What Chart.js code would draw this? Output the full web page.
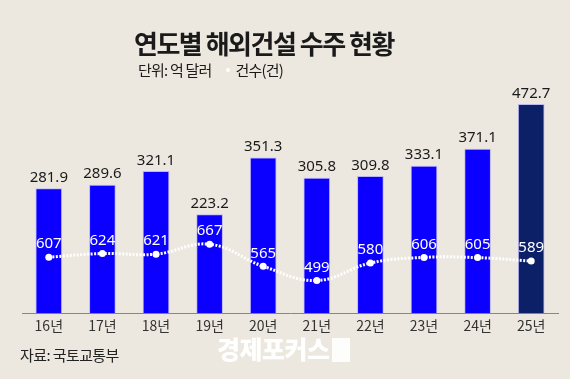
<!DOCTYPE html>
<html><head><meta charset="utf-8">
<script src="https://cdn.jsdelivr.net/npm/chart.js@4"></script>
<style>
html,body{margin:0;padding:0;background:#ECE8DF;}
#wrap{position:relative;width:570px;height:379px;overflow:hidden;font-family:"Noto Sans CJK KR","Noto Sans",sans-serif;}
#c{position:absolute;left:0;top:0;}
.t{position:absolute;white-space:nowrap;}
#title{left:134px;top:24px;font-size:26px;font-weight:700;color:#1a1a1a;letter-spacing:-1.5px;}
#sub{left:138px;top:59px;font-size:15px;color:#1a1a1a;letter-spacing:-0.8px;}
#sub .dot{display:inline-block;width:4px;height:4px;border-radius:2px;background:#fff;margin:0 6px 3px 14px;vertical-align:middle;}
#src{left:20px;top:344px;font-size:15px;color:#222;letter-spacing:-0.6px;}
#wm{left:217px;top:330px;font-size:25px;font-weight:900;color:#fff;letter-spacing:-0.5px;}
#wm .box{display:inline-block;width:18px;height:24px;background:#fff;margin-left:2px;vertical-align:-3px;opacity:0.9;}
</style></head>
<body><div id="wrap">
<canvas id="c" width="570" height="379"></canvas>
<div class="t" id="title">연도별 해외건설 수주 현황</div>
<div class="t" id="sub">단위: 억 달러<span class="dot"></span>건수(건)</div>
<div class="t" id="src">자료: 국토교통부</div>
<div class="t" id="wm">경제포커스<span class="box"></span></div>
</div>
<script>
const categories = ["16년","17년","18년","19년","20년","21년","22년","23년","24년","25년"];
const orderAmounts = [281.9,289.6,321.1,223.2,351.3,305.8,309.8,333.1,371.1,472.7];
const orderCounts = [607,624,621,667,565,499,580,606,605,589];
const barColors = categories.map((c,i)=> i===categories.length-1 ? "#0C2068" : "#0B00FF");

const labelPlugin = {
  id:"labels",
  afterDatasetsDraw(chart){
    const ctx = chart.ctx;
    ctx.save();
    ctx.textAlign = "center";
    ctx.textBaseline = "middle";
    const barMeta = chart.getDatasetMeta(1);
    ctx.font = '15px "Noto Sans", "Noto Sans CJK KR", sans-serif';
    ctx.fillStyle = "#1a1a1a";
    barMeta.data.forEach((el,i)=>{
      ctx.fillText(orderAmounts[i].toFixed(1), el.x, el.y - 11);
    });
    const lineMeta = chart.getDatasetMeta(0);
    ctx.fillStyle = "#ffffff";
    lineMeta.data.forEach((el,i)=>{
      ctx.fillText(String(orderCounts[i]), el.x, el.y - 13);
    });
    ctx.restore();
  }
};

new Chart(document.getElementById("c"), {
  data:{
    labels: categories,
    datasets:[
      {type:"line", data: orderCounts, yAxisID:"y2", borderColor:"#ffffff", borderWidth:3,
       borderDash:[2,1.5], tension:0.4, pointRadius:3.5, pointBackgroundColor:"#ffffff",
       pointBorderWidth:0, order:0},
      {type:"bar", data: orderAmounts, yAxisID:"y", backgroundColor: barColors,
       borderColor:"rgba(160,150,255,0.6)", borderWidth:{left:1,right:1,top:1,bottom:0},
       barThickness:26, order:1}
    ]
  },
  options:{
    responsive:false, animation:false,
    layout:{padding:{left:22,right:12,top:90,bottom:41}},
    plugins:{legend:{display:false}, tooltip:{enabled:false}},
    scales:{
      x:{grid:{display:false,drawTicks:false}, border:{display:true,color:"#8a8680",width:1},
         ticks:{color:"#333",font:{family:'"Noto Sans CJK KR", sans-serif',size:14},padding:4}},
      y:{display:false,min:0,max:505},
      y2:{display:false,min:348,max:1380}
    }
  },
  plugins:[labelPlugin]
});
</script>
</body></html>
